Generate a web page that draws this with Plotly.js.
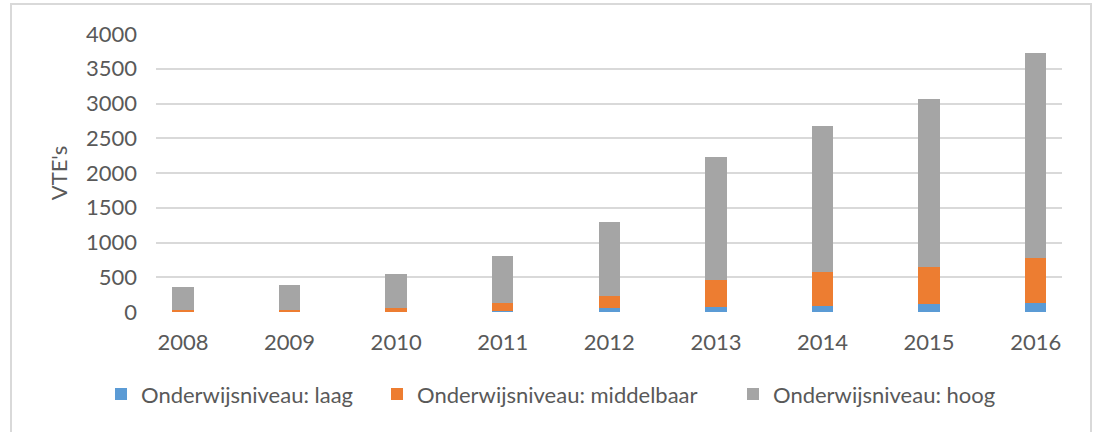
<!DOCTYPE html>
<html>
<head>
<meta charset="utf-8">
<script src="https://cdn.plot.ly/plotly-3.0.1.min.js"></script>
<style>
  html, body { margin: 0; padding: 0; background: #fff; }
  #wrap { position: relative; width: 1098px; height: 432px; overflow: hidden; }
  #chart { position: absolute; left: 0; top: 0; width: 1098px; height: 432px; }
  #frame { position: absolute; left: 10px; top: 3px; width: 1078px; height: 460px;
           border: 2px solid #D9D9D9; pointer-events: none; }
</style>
</head>
<body>
<div id="wrap">
  <div id="chart"></div>
  <div id="frame"></div>
</div>
<script>
const years = ['2008', '2009', '2010', '2011', '2012', '2013', '2014', '2015', '2016'];
const laag = [3, 3, 5, 8, 53, 72, 86, 110, 125];
const middelbaar = [30, 30, 48, 117, 181, 388, 484, 532, 655];
const hoog = [331, 351, 493, 684, 1059, 1772, 2112, 2428, 2940];
const seriesNames = ['Onderwijsniveau: laag', 'Onderwijsniveau: middelbaar', 'Onderwijsniveau: hoog'];
const yTicks = [0, 500, 1000, 1500, 2000, 2500, 3000, 3500, 4000];

const colors = ['#5B9BD5', '#ED7D31', '#A5A5A5'];
const legendWidths = [231, 311, 250];
const FONT = 'Lato, "Liberation Sans", sans-serif';
const FS = 22;
const TXT = '#595959';

const traces = [laag, middelbaar, hoog].map((vals, i) => ({
  type: 'bar',
  x: years,
  y: vals,
  name: seriesNames[i],
  width: 0.2,
  legendwidth: legendWidths[i],
  marker: { color: colors[i], line: { width: 0 } },
  hoverinfo: 'x+y+name'
}));

const layout = {
  width: 1098,
  height: 432,
  barmode: 'stack',
  paper_bgcolor: '#ffffff',
  plot_bgcolor: '#ffffff',
  margin: { l: 156, r: 36, t: 34, b: 120 },
  font: { family: FONT, size: FS, color: TXT },
  xaxis: {
    type: 'category',
    range: [-0.253, 8.247],
    showgrid: false,
    zeroline: false,
    showline: false,
    ticks: '',
    ticklabelstandoff: 15,
    tickfont: { family: FONT, size: FS, color: TXT }
  },
  yaxis: {
    range: [0, 4000],
    tickvals: yTicks,
    ticktext: yTicks.map(String),
    showgrid: true,
    gridcolor: '#D9D9D9',
    gridwidth: 2,
    zeroline: false,
    showline: false,
    ticks: '',
    ticklabelstandoff: 18,
    tickfont: { family: FONT, size: FS, color: TXT },
    title: { text: "VTE's", font: { family: FONT, size: FS, color: TXT }, standoff: 12 }
  },
  legend: {
    orientation: 'h',
    x: -0.0607,
    xanchor: 'left',
    y: -0.22,
    yanchor: 'top',
    font: { family: FONT, size: FS, color: TXT },
    itemwidth: 30,
    traceorder: 'normal'
  },
  showlegend: true
};

Plotly.newPlot('chart', traces, layout, { displayModeBar: false, staticPlot: true });
</script>
</body>
</html>
